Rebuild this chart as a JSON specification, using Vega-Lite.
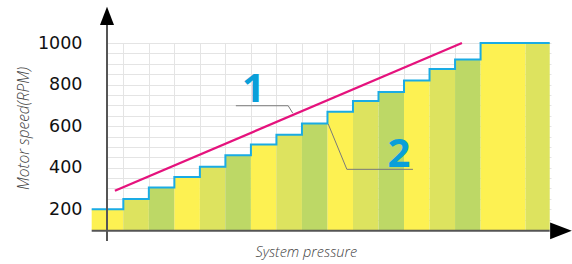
{
  "$schema": "https://vega.github.io/schema/vega-lite/v6.json",
  "autosize": {"type": "none"},
  "padding": {"left": 107, "top": 43, "right": 21, "bottom": 34},
  "width": 444,
  "height": 187,
  "background": "white",
  "config": {"view": {"stroke": null}},
  "datasets": {
    "bars": [
      {"p": -0.6, "p2": 0.64, "v": 200, "shade": "yellow"},
      {"p": 0.64, "p2": 1.64, "v": 249, "shade": "khaki"},
      {"p": 1.64, "p2": 2.64, "v": 305, "shade": "green"},
      {"p": 2.64, "p2": 3.64, "v": 355, "shade": "yellow"},
      {"p": 3.64, "p2": 4.64, "v": 405, "shade": "khaki"},
      {"p": 4.64, "p2": 5.64, "v": 460, "shade": "green"},
      {"p": 5.64, "p2": 6.64, "v": 512, "shade": "yellow"},
      {"p": 6.64, "p2": 7.64, "v": 558, "shade": "khaki"},
      {"p": 7.64, "p2": 8.64, "v": 613, "shade": "green"},
      {"p": 8.64, "p2": 9.64, "v": 669, "shade": "yellow"},
      {"p": 9.64, "p2": 10.64, "v": 721, "shade": "khaki"},
      {"p": 10.64, "p2": 11.64, "v": 764, "shade": "green"},
      {"p": 11.64, "p2": 12.64, "v": 820, "shade": "yellow"},
      {"p": 12.64, "p2": 13.64, "v": 875, "shade": "khaki"},
      {"p": 13.64, "p2": 14.64, "v": 921, "shade": "green"},
      {"p": 14.64, "p2": 16.4, "v": 1000, "shade": "yellow"},
      {"p": 16.4, "p2": 17.35, "v": 1000, "shade": "khaki"}
    ],
    "steps": [
      {"p": -0.6, "v": 200}, {"p": 0.64, "v": 249}, {"p": 1.64, "v": 305},
      {"p": 2.64, "v": 355}, {"p": 3.64, "v": 405}, {"p": 4.64, "v": 460},
      {"p": 5.64, "v": 512}, {"p": 6.64, "v": 558}, {"p": 7.64, "v": 613},
      {"p": 8.64, "v": 669}, {"p": 9.64, "v": 721}, {"p": 10.64, "v": 764},
      {"p": 11.64, "v": 820}, {"p": 12.64, "v": 875}, {"p": 13.64, "v": 921},
      {"p": 14.64, "v": 1000}, {"p": 17.35, "v": 1000}
    ],
    "trend": [{"p": 0.31, "v": 289}, {"p": 13.91, "v": 1000}],
    "leaders": [
      {"id": "1", "p": 5.05, "v": 698}, {"id": "1", "p": 7.1, "v": 698}, {"id": "1", "p": 7.28, "v": 662},
      {"id": "2", "p": 8.67, "v": 610}, {"id": "2", "p": 9.4, "v": 392}, {"id": "2", "p": 11.99, "v": 392}
    ],
    "labels": [{"t": "1", "p": 5.74, "v": 716}, {"t": "2", "p": 11.44, "v": 403}],
    "axes": [
      {"p": -0.6, "p2": 17.35, "v": 96, "v2": 96},
      {"p": 0, "p2": 0, "v": 47, "v2": 1090}
    ],
    "arrowUp": [{"p": 0, "v": 1131}],
    "arrowRight": [{"p": 17.79, "v": 96}]
  },
  "encoding": {
    "x": {
      "field": "p", "type": "quantitative",
      "scale": {"domain": [0, 17.4], "nice": false, "zero": false},
      "axis": {
        "values": [0.64, 1.64, 2.64, 3.64, 4.64, 5.64, 6.64, 7.64, 8.64, 9.64, 10.64, 11.64, 12.64, 13.64, 14.64],
        "labels": false, "ticks": false, "domain": false,
        "grid": true, "gridColor": "#e4e4e4", "gridWidth": 1,
        "title": "System pressure",
        "titleX": 198.8, "titleY": 22, "titleAlign": "center", "titleBaseline": "middle",
        "titleFont": "Open Sans", "titleFontSize": 14.5, "titleFontStyle": "italic", "titleFontWeight": 300, "titleColor": "#3f3f3f"
      }
    },
    "y": {
      "field": "v", "type": "quantitative",
      "scale": {"domain": [100, 1000], "nice": false, "zero": false},
      "axis": {
        "values": [150, 200, 250, 300, 350, 400, 450, 500, 550, 600, 650, 700, 750, 800, 850, 900, 950, 1000],
        "labelExpr": "datum.value % 200 === 0 ? datum.label : ''",
        "format": "d",
        "labelOverlap": false, "labelFlush": false, "labelBound": false,
        "labelFont": "DejaVu Sans", "labelFontSize": 17.5, "labelColor": "#111111", "labelPadding": 25,
        "ticks": false, "domain": false,
        "grid": true, "gridColor": "#e4e4e4", "gridWidth": 1,
        "title": "Motor speed(RPM)",
        "titleX": -83.4, "titleY": 85, "titleAngle": -90, "titleAlign": "center", "titleBaseline": "middle",
        "titleFont": "Open Sans", "titleFontSize": 15.5, "titleFontStyle": "italic", "titleFontWeight": 300, "titleColor": "#3f3f3f"
      }
    }
  },
  "layer": [
    {
      "data": {"name": "bars"},
      "mark": {"type": "rect", "strokeWidth": 0},
      "encoding": {
        "x2": {"field": "p2"},
        "y2": {"datum": 100},
        "color": {
          "field": "shade", "type": "nominal", "legend": null,
          "scale": {"domain": ["yellow", "khaki", "green"], "range": ["#fdf152", "#dde35f", "#bdd866"]}
        }
      }
    },
    {
      "data": {"name": "steps"},
      "mark": {"type": "line", "interpolate": "step-after", "color": "#1aabe4", "strokeWidth": 2},
      "encoding": {}
    },
    {
      "data": {"name": "trend"},
      "mark": {"type": "line", "color": "#e5127d", "strokeWidth": 2.3},
      "encoding": {}
    },
    {
      "data": {"name": "leaders"},
      "mark": {"type": "line", "color": "#7a7a7a", "strokeWidth": 1},
      "encoding": {"detail": {"field": "id"}}
    },
    {
      "data": {"name": "labels"},
      "mark": {"type": "text", "font": "Open Sans", "fontSize": 40, "fontWeight": "bold", "color": "#0a9fd9", "align": "center", "baseline": "alphabetic"},
      "encoding": {"text": {"field": "t"}}
    },
    {
      "data": {"name": "axes"},
      "mark": {"type": "rule", "color": "#555555", "strokeWidth": 2},
      "encoding": {"x2": {"field": "p2"}, "y2": {"field": "v2"}}
    },
    {
      "data": {"name": "arrowUp"},
      "mark": {"type": "point", "shape": "M0,-1L0.765,1L-0.765,1Z", "size": 335, "filled": true, "color": "#000000", "opacity": 1},
      "encoding": {}
    },
    {
      "data": {"name": "arrowRight"},
      "mark": {"type": "point", "shape": "M1,0L-1,-0.765L-1,0.765Z", "size": 471, "filled": true, "color": "#000000", "opacity": 1},
      "encoding": {}
    }
  ]
}
